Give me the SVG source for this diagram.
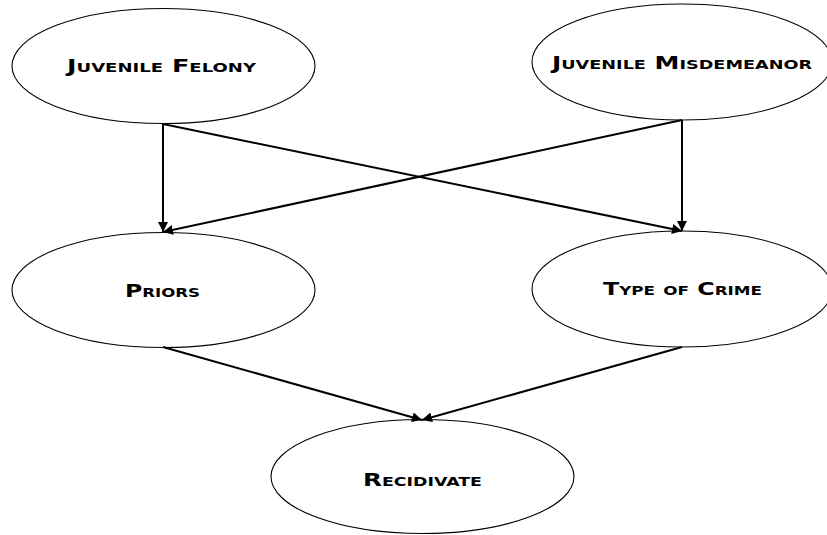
<svg xmlns="http://www.w3.org/2000/svg" width="827" height="535" viewBox="0 0 827 535">
<style>
.node ellipse{fill:#fff;stroke:#000;stroke-width:1.1}
.node text{font-family:"DejaVu Sans","Liberation Sans",sans-serif;font-weight:bold;font-size:17px;font-variant:small-caps;text-anchor:middle;fill:#000}
.edges line{stroke:#000;stroke-width:2;marker-end:url(#ah)}
</style>
<defs>
<marker id="ah" viewBox="0 0 10 10" refX="10" refY="5" markerWidth="5" markerHeight="5" orient="auto" markerUnits="strokeWidth">
<path d="M0,0 L10,5 L0,10 z" fill="#000"/>
</marker>
</defs>
<rect width="827" height="535" fill="#fff"/>
<g id="felony" class="node"><ellipse cx="163.5" cy="66" rx="151.5" ry="57.5"/><text x="161.5" y="72.3" textLength="189" lengthAdjust="spacingAndGlyphs">Juvenile Felony</text></g>
<g id="misdemeanor" class="node"><ellipse cx="682" cy="62" rx="150" ry="58"/><text x="682" y="69.3" textLength="260" lengthAdjust="spacingAndGlyphs">Juvenile Misdemeanor</text></g>
<g id="priors" class="node"><ellipse cx="163.5" cy="290" rx="151.5" ry="57.5"/><text x="162.5" y="296.5" textLength="75" lengthAdjust="spacingAndGlyphs">Priors</text></g>
<g id="crime" class="node"><ellipse cx="682" cy="289" rx="150" ry="58"/><text x="682.5" y="295.3" textLength="159" lengthAdjust="spacingAndGlyphs">Type of Crime</text></g>
<g id="recidivate" class="node"><ellipse cx="422.5" cy="476.5" rx="151.5" ry="57"/><text x="422.5" y="485.7" textLength="119" lengthAdjust="spacingAndGlyphs">Recidivate</text></g>
<g class="edges">
<line x1="163" y1="124" x2="163" y2="232"/>
<line x1="163" y1="124" x2="682" y2="231"/>
<line x1="682" y1="120" x2="163" y2="232"/>
<line x1="682" y1="120" x2="682" y2="231"/>
<line x1="163" y1="347" x2="422" y2="420"/>
<line x1="682" y1="347" x2="422" y2="420"/>
</g>
</svg>
